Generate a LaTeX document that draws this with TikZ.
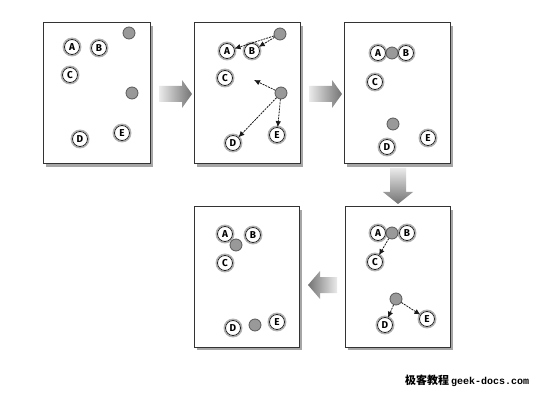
\documentclass[tikz,border=0pt]{standalone}
\usepackage{fontspec}
\setmainfont{Fira Sans}
\newfontfamily\cjkfont{Noto Sans CJK SC}
\newfontfamily\wmmono{Liberation Mono}
\usetikzlibrary{arrows.meta}
\tikzset{
  panel/.style={draw=black!80, line width=1pt, fill=white},
  pshadow/.style={fill=black!35, draw=none},
  letter/.style={circle, draw=black!85, line width=0.8pt, fill=white, minimum size=15pt, inner sep=0pt,
     font=\fontsize{10}{10}\selectfont\bfseries},
  halo/.style={circle, draw=black!30, line width=1.4pt, minimum size=17.5pt, inner sep=0pt},
  gdot/.style={circle, draw=black!65, line width=0.8pt, fill=black!40, minimum size=12pt, inner sep=0pt},
  dasharrow/.style={dash pattern=on 2pt off 1pt, line width=0.8pt, draw=black!90, -{Latex[length=6pt,width=5.5pt]}},
}
\newcommand{\letnode}[3]{\node[halo] at (#2) {}; \node[letter] (#1) at (#2) {#3};}
\begin{document}
\begin{tikzpicture}[x=1pt,y=-1pt]
\path[use as bounding box, fill=white] (0,0) rectangle (550,404);

% panels with shadows
\foreach \x/\y/\X/\Y in {43/23/150/164, 194/23/300/164, 344/23/450/164, 194/207/299/347, 345/207/450/347}{
  \fill[pshadow] (\x+3,\y+3) rectangle (\X+3,\Y+3);
  \draw[panel] (\x,\y) rectangle (\X,\Y);
}

% big arrows
\shade[left color=black!8, right color=black!55] (159,86) -- (182,86) -- (182,80) -- (192,94) -- (182,108) -- (182,102) -- (159,102) -- cycle;
\shade[left color=black!8, right color=black!55] (309,86) -- (332,86) -- (332,80) -- (342,94) -- (332,108) -- (332,102) -- (309,102) -- cycle;
\shade[top color=black!8, bottom color=black!55] (390,168) -- (406,168) -- (406,192) -- (413,192) -- (398,204) -- (383,192) -- (390,192) -- cycle;
\shade[right color=black!8, left color=black!55] (337,277) -- (320,277) -- (320,271) -- (308,285) -- (320,299) -- (320,293) -- (337,293) -- cycle;

% panel 1
\letnode{a1}{72,47}{A}
\letnode{b1}{99,48}{B}
\letnode{c1}{70,75}{C}
\letnode{d1}{80,139}{D}
\letnode{e1}{122,133}{E}
\node[gdot] (g1a) at (129,33) {};
\node[gdot] (g1b) at (132,93) {};

% panel 2
\letnode{a2}{227,51}{A}
\letnode{b2}{252,51}{B}
\letnode{c2}{225,78}{C}
\letnode{d2}{233,143}{D}
\letnode{e2}{277,135}{E}
\node[gdot] (g2a) at (280,34) {};
\node[gdot] (g2b) at (281,93) {};
\coordinate (f2) at (254,80);
\draw[dasharrow] (g2a) -- (a2);
\draw[dasharrow] (g2a) -- (b2);
\draw[dasharrow] (g2b) -- (f2);
\draw[dasharrow] (g2b) -- (d2);
\draw[dasharrow] (g2b) -- (e2);

% panel 3
\letnode{a3}{378,53}{A}
\letnode{b3}{406,53}{B}
\node[gdot] (g3a) at (392,53) {};
\letnode{c3}{375,82}{C}
\letnode{d3}{387,147}{D}
\letnode{e3}{428,138}{E}
\node[gdot] (g3b) at (393,124) {};

% panel 5 (bottom right)
\letnode{a5}{378,233}{A}
\letnode{b5}{407,233}{B}
\node[gdot] (g5a) at (392,233) {};
\letnode{c5}{375,262}{C}
\letnode{d5}{385,325}{D}
\letnode{e5}{427,319}{E}
\node[gdot] (g5b) at (396,299) {};
\draw[dasharrow] (g5a) -- (c5);
\draw[dasharrow] (g5b) -- (d5);
\draw[dasharrow] (g5b) -- (e5);

% panel 4 (bottom left)
\letnode{a4}{225,234}{A}
\letnode{b4}{253,235}{B}
\node[gdot] (g4a) at (236,245) {};
\letnode{c4}{225,263}{C}
\letnode{d4}{233,328}{D}
\letnode{e4}{277,322}{E}
\node[gdot] (g4b) at (255,325) {};

% watermark
\node[anchor=west, inner sep=0pt] (wm) at (405,381) {\cjkfont\fontsize{11}{11}\selectfont\bfseries 极客教程\hspace{2pt}\wmmono\fontsize{10}{10}\selectfont geek-docs.com};
\end{tikzpicture}
\end{document}
